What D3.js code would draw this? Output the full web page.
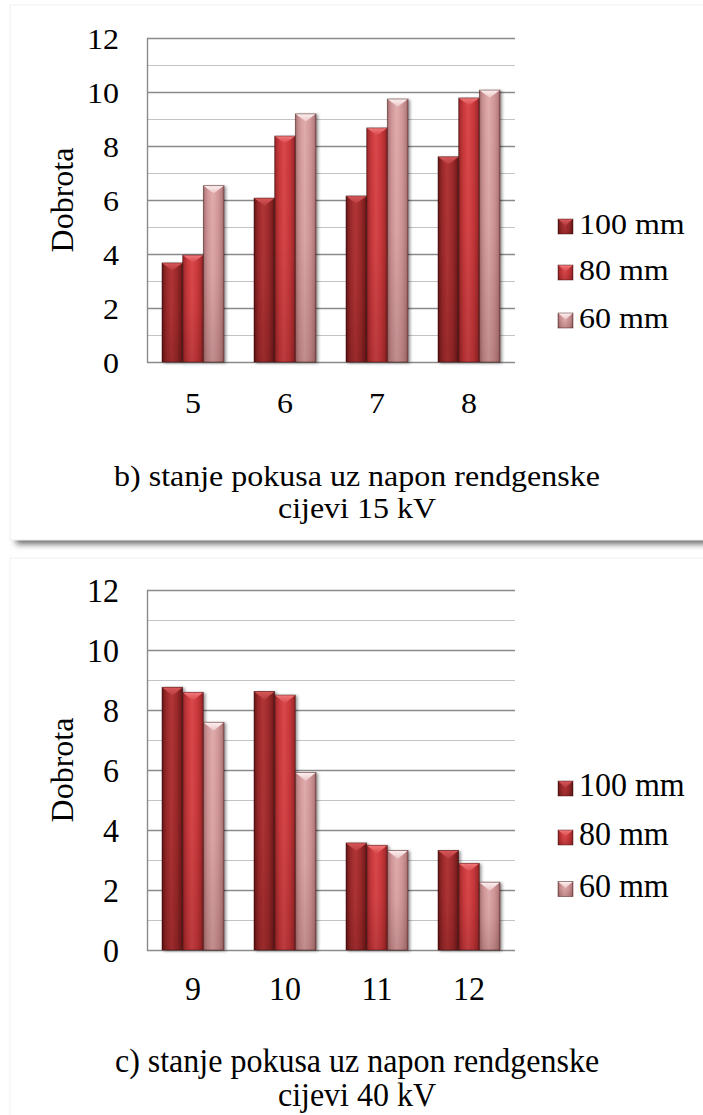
<!DOCTYPE html>
<html><head><meta charset="utf-8">
<script src="https://cdn.jsdelivr.net/npm/d3@7"></script>
<style>
body{margin:0;background:#fff}
</style>
</head><body>
<svg id="c" width="703" height="1115" font-family="Liberation Serif"></svg>
<script>
// ---------- data ----------
const seriesNames = ["100 mm", "80 mm", "60 mm"];
const categoriesB = ["5", "6", "7", "8"];
const valuesB100 = [3.67, 6.07, 6.15, 7.60];
const valuesB80  = [3.96, 8.37, 8.67, 9.78];
const valuesB60  = [6.53, 9.19, 9.74, 10.07];
const categoriesC = ["9", "10", "11", "12"];
const valuesC100 = [8.76, 8.62, 3.57, 3.32];
const valuesC80  = [8.59, 8.50, 3.49, 2.89];
const valuesC60  = [7.59, 5.92, 3.32, 2.26];
const yTickValues = [0, 2, 4, 6, 8, 10, 12];
const yDomainMax = 12;
const axisTitle = "Dobrota";
const titleB = ["b) stanje pokusa uz napon rendgenske", "cijevi 15 kV"];
const titleC = ["c) stanje pokusa uz napon rendgenske", "cijevi 40 kV"];

// ---------- layout ----------
const FONT = "Liberation Serif";
const FS = 32;
const svg = d3.select("#c");
const palettes = [
  {edge:"#561314", dark:"#7a1e1f", body:"#9c2a2b", light:"#b13436", tri0:"#d9595b", tri1:"#b63a3c"},
  {edge:"#821e20", dark:"#a92d2f", body:"#c9383b", light:"#da484b", tri0:"#f27a7c", tri1:"#d64649"},
  {edge:"#95605f", dark:"#b98284", body:"#d29899", light:"#e0acad", tri0:"#fdf1f1", tri1:"#ebc4c5"}
];

const defs = svg.append("defs");
palettes.forEach((p, i) => {
  const h = defs.append("linearGradient").attr("id", "h" + i).attr("x1", 0).attr("x2", 1).attr("y1", 0).attr("y2", 0);
  [[0, p.edge], [0.08, p.dark], [0.22, p.body], [0.45, p.light], [0.72, p.body], [0.9, p.dark], [1, p.edge]]
    .forEach(([o, c]) => h.append("stop").attr("offset", o).attr("stop-color", c));
  const t = defs.append("linearGradient").attr("id", "t" + i).attr("x1", 0).attr("x2", 0).attr("y1", 0).attr("y2", 1);
  t.append("stop").attr("offset", 0).attr("stop-color", p.tri0);
  t.append("stop").attr("offset", 1).attr("stop-color", p.tri1);
});
const vs = defs.append("linearGradient").attr("id", "vshade").attr("x1", 0).attr("x2", 0).attr("y1", 0).attr("y2", 1);
vs.append("stop").attr("offset", 0).attr("stop-color", "#300000").attr("stop-opacity", 0);
vs.append("stop").attr("offset", 0.5).attr("stop-color", "#300000").attr("stop-opacity", 0.04);
vs.append("stop").attr("offset", 1).attr("stop-color", "#300000").attr("stop-opacity", 0.18);

const bs = defs.append("filter").attr("id", "bshadow").attr("x", "-20%").attr("y", "-5%").attr("width", "150%").attr("height", "115%");
bs.append("feGaussianBlur").attr("in", "SourceAlpha").attr("stdDeviation", 1.6).attr("result", "b");
bs.append("feOffset").attr("in", "b").attr("dx", 1.8).attr("dy", 1.2).attr("result", "o");
bs.append("feComponentTransfer").attr("in", "o").attr("result", "s")
  .append("feFuncA").attr("type", "linear").attr("slope", 0.4);
const bm = bs.append("feMerge");
bm.append("feMergeNode").attr("in", "s");
bm.append("feMergeNode").attr("in", "SourceGraphic");

const blur = defs.append("filter").attr("id", "blur").attr("x", "-5%").attr("y", "-100%").attr("width", "110%").attr("height", "300%");
blur.append("feGaussianBlur").attr("stdDeviation", 3);

svg.append("rect").attr("width", 703).attr("height", 1115).attr("fill", "#fff");

// box 1 shadow + boxes
svg.append("rect").attr("x", 16).attr("y", 534).attr("width", 720).attr("height", 10)
  .attr("fill", "#666").attr("filter", "url(#blur)");
svg.append("rect").attr("x", 10).attr("y", 5).attr("width", 720).attr("height", 535)
  .attr("fill", "#fff").attr("stroke", "#efefef");
svg.append("rect").attr("x", 10).attr("y", 558).attr("width", 720).attr("height", 600)
  .attr("fill", "#fff").attr("stroke", "#f1f1f1");

const charts = [
  {cats: categoriesB, series: [valuesB100, valuesB80, valuesB60], top: 38, bottom: 362, sy: 0.92,
   xLabelY: 413, title: titleB, titleY: [486, 518], legendBottom: [234, 280, 328], tickDy: 10},
  {cats: categoriesC, series: [valuesC100, valuesC80, valuesC60], top: 590, bottom: 950, sy: 1.02,
   xLabelY: 1000, title: titleC, titleY: [1072, 1106], legendBottom: [796, 845, 896.5], tickDy: 11}
];

const left = 147, right = 515;

function styleText(sel) {
  return sel.attr("font-family", FONT).attr("font-size", FS).attr("fill", "#000");
}

function addText(g, x, y, s, sy, anchor) {
  return styleText(g.append("text").attr("transform", `translate(${x},${y}) scale(1,${sy})`)
    .attr("text-anchor", anchor || "middle").text(s));
}

function bevel(sel, gx, gy, gw, gh, gt, si) {
  sel.append("rect").attr("x", gx).attr("y", gy).attr("width", gw).attr("height", gh)
    .attr("fill", d => `url(#h${si(d)})`);
  sel.append("rect").attr("x", gx).attr("y", gy).attr("width", gw).attr("height", gh)
    .attr("fill", "url(#vshade)");
  sel.append("path").attr("d", d => {
    const x = gx(d), y = gy(d), w = gw(d), t = gt(d);
    return `M${x},${y}L${x + w},${y}L${x + w / 2},${y + t}Z`;
  }).attr("fill", d => `url(#t${si(d)})`);
  sel.append("rect").attr("x", gx).attr("y", gy).attr("width", gw).attr("height", gh)
    .attr("fill", "none").attr("stroke", "#3a0a0a").attr("stroke-opacity", 0.55).attr("stroke-width", 0.8);
}

charts.forEach(ch => {
  const g = svg.append("g");
  const y = d3.scaleLinear().domain([0, yDomainMax]).range([ch.bottom, ch.top]);
  const x0 = d3.scaleBand().domain(ch.cats).range([left, right]).paddingInner(0.326).paddingOuter(0.163);
  const x1 = d3.scaleBand().domain(seriesNames).range([0, x0.bandwidth()]);

  // minor gridlines
  g.append("g").attr("transform", `translate(${left},0)`)
    .call(d3.axisLeft(y).tickValues(d3.range(1, yDomainMax, 2)).tickSize(-(right - left)).tickFormat(""))
    .call(a => a.select(".domain").remove())
    .call(a => a.selectAll("line").attr("stroke", "#c4c4c4").attr("stroke-width", 1.1));
  // major gridlines
  g.append("g").attr("transform", `translate(${left},0)`)
    .call(d3.axisLeft(y).tickValues(yTickValues).tickSize(-(right - left)).tickFormat(""))
    .call(a => a.select(".domain").remove())
    .call(a => a.selectAll("line").attr("stroke", "#8a8a8a").attr("stroke-width", 1.4));
  // y axis line + labels
  g.append("g").attr("transform", `translate(${left},0)`)
    .call(d3.axisLeft(y).tickValues(yTickValues).tickSize(0).tickPadding(0).tickFormat(d3.format("d")))
    .attr("font-family", FONT).attr("font-size", FS)
    .call(a => a.select(".domain").attr("stroke", "#8a8a8a").attr("stroke-width", 1.4))
    .call(a => styleText(a.selectAll("text").attr("x", null).attr("dy", null))
      .attr("transform", `translate(-28,${ch.tickDy}) scale(1,${ch.sy})`));

  // x axis labels
  g.append("g").attr("transform", `translate(0,${ch.bottom})`)
    .call(d3.axisBottom(x0).tickSize(0))
    .attr("font-family", FONT).attr("font-size", FS)
    .call(a => a.select(".domain").remove())
    .call(a => styleText(a.selectAll("text").attr("y", null).attr("dy", null))
      .attr("transform", `translate(0,${ch.xLabelY - ch.bottom}) scale(1,${ch.sy})`));

  // bars
  const barData = ch.cats.flatMap((c, ci) => ch.series.map((vals, si) => ({cat: c, s: seriesNames[si], si, v: vals[ci]})));
  const bars = g.append("g").selectAll("g.bar").data(barData).join("g").attr("class", "bar").attr("filter", "url(#bshadow)");
  bevel(bars,
    d => x0(d.cat) + x1(d.s),
    d => y(d.v),
    () => x1.bandwidth(),
    d => y(0) - y(d.v),
    () => x1.bandwidth() * 0.4 * ch.sy,
    d => d.si);

  // axis title
  styleText(g.append("text").attr("transform", `translate(73,${(ch.top + ch.bottom) / 2}) rotate(-90)`)
    .attr("text-anchor", "middle").text(axisTitle));

  // legend
  const lg = g.append("g").selectAll("g.leg").data(seriesNames.map((s, i) => ({s, si: i, b: ch.legendBottom[i]})))
    .join("g").attr("class", "leg");
  bevel(lg, () => 558, d => d.b - 15, () => 15, () => 15, () => 6.5, d => d.si);
  lg.each(function (d) {
    addText(d3.select(this), 579, d.b, d.s, ch.sy, "start");
  });

  // title
  ch.title.forEach((t, i) => addText(g, 357, ch.titleY[i], t, ch.sy, "middle"));
});
</script>
</body></html>
